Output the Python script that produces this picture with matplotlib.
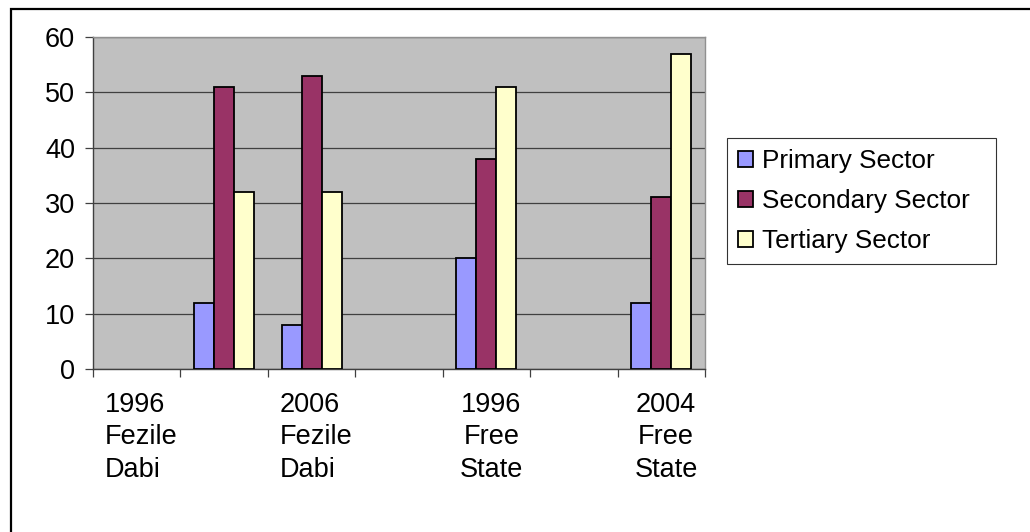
import matplotlib
matplotlib.use("Agg")
import matplotlib.pyplot as plt
from matplotlib.patches import Rectangle
import numpy as np

# Category slots on the x axis (7 slots, Excel-style)
n_slots = 7
label_slots = [0, 2, 4, 6]
labels = ["1996\nFezile\nDabi", "2006\nFezile\nDabi", "1996\nFree\nState", "2004\nFree\nState"]
label_align = ["left", "left", "center", "center"]

# Bars sit in these slots
data_slots = [1, 2, 4, 6]
primary = [12, 8, 20, 12]
secondary = [51, 53, 38, 31]
tertiary = [32, 32, 51, 57]

series = ["Primary Sector", "Secondary Sector", "Tertiary Sector"]
colors = ["#9999FF", "#993366", "#FFFFCC"]

plt.rcParams["font.family"] = ["Liberation Sans", "DejaVu Sans"]

fig = plt.figure(figsize=(10.3, 5.32), dpi=100)
ax = fig.add_axes([93 / 1030, 1 - 369 / 532, (705 - 93) / 1030, (369 - 37) / 532])
ax.set_facecolor("#C0C0C0")

width = 0.229
x = np.array(data_slots, dtype=float)
for i, (vals, name, col) in enumerate(zip([primary, secondary, tertiary], series, colors)):
    ax.bar(x + (i - 1) * width, vals, width, color=col, edgecolor="black",
           linewidth=1.3, label=name, zorder=3)

ax.set_xlim(-0.5, n_slots - 0.5)
ax.set_ylim(0, 60)
ax.set_yticks(np.arange(0, 61, 10))
ax.set_xticks(np.arange(-0.5, n_slots, 1.0))
ax.set_xticklabels([])
ax.yaxis.grid(True, color="#404040", linewidth=0.9, zorder=1)
ax.set_axisbelow(True)

ax.tick_params(axis="y", direction="out", length=5.8, width=0.9, color="#404040",
               labelsize=19.5, pad=7)
ax.tick_params(axis="x", direction="out", length=5.8, width=0.9, color="#404040")
for side in ["left", "bottom"]:
    ax.spines[side].set_color("#404040")
    ax.spines[side].set_linewidth(1.0)
for side in ["top", "right"]:
    ax.spines[side].set_color("#909090")
    ax.spines[side].set_linewidth(1.0)

# category labels under the slots
for slot, text, al in zip(label_slots, labels, label_align):
    ax.annotate(text, xy=(slot, 0), xycoords=ax.get_xaxis_transform(),
                xytext=(3.5, -16.5), textcoords="offset points",
                ha="center", va="top", multialignment=al,
                fontsize=19.5, linespacing=1.32)

leg_box = (727 / 1030, 1 - 264 / 532, (996 - 727) / 1030, (264 - 138) / 532)
leg = fig.legend(loc="upper left", bbox_to_anchor=leg_box, mode="expand",
                 borderaxespad=0, fancybox=False, frameon=True, fontsize=18.8,
                 handlelength=0.58, handleheight=0.58, handletextpad=0.35,
                 labelspacing=0.62, borderpad=0.42)
leg.get_frame().set_edgecolor("black")
leg.get_frame().set_linewidth(0.8)

# outer chart frame (cut off at right and bottom)
fig.add_artist(Rectangle((11 / 1030, -0.1), 1.2, 1 - 8.5 / 532 + 0.1,
                         transform=fig.transFigure, fill=False,
                         edgecolor="black", linewidth=1.6))

fig.savefig("out.png", dpi=100)
